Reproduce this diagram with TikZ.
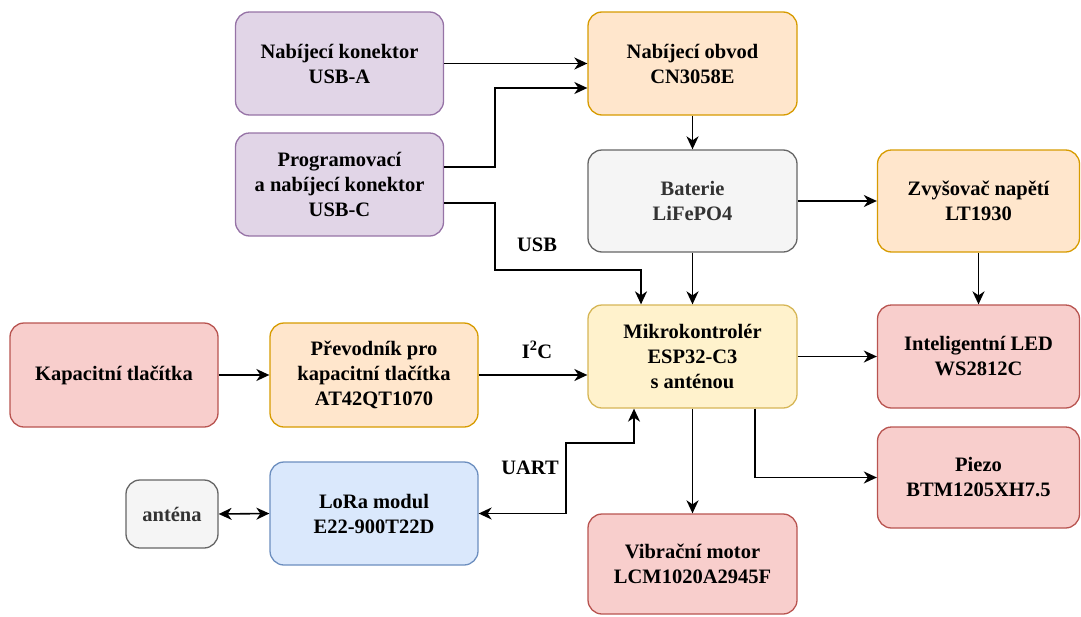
\documentclass[tikz,border=0pt]{standalone}
\usepackage{fontspec}
\setmainfont{Liberation Serif}
\newfontfamily\tnrfont{Liberation Serif}
\usetikzlibrary{arrows.meta}
\definecolor{pfill}{HTML}{E1D5E7}\definecolor{pdraw}{HTML}{9673A6}
\definecolor{ofill}{HTML}{FFE6CC}\definecolor{odraw}{HTML}{D79B00}
\definecolor{gfill}{HTML}{F5F5F5}\definecolor{gdraw}{HTML}{666666}
\definecolor{gtext}{HTML}{333333}
\definecolor{yfill}{HTML}{FFF2CC}\definecolor{ydraw}{HTML}{D6B656}
\definecolor{rfill}{HTML}{F8CECC}\definecolor{rdraw}{HTML}{B85450}
\definecolor{bfill}{HTML}{DAE8FC}\definecolor{bdraw}{HTML}{6C8EBF}
\tikzset{
  box/.style={rounded corners=14pt, line width=1.3pt, align=center, inner sep=2pt,
    font=\tnrfont\fontsize{20.5}{25}\selectfont\bfseries},
  purplebox/.style={box, fill=pfill, draw=pdraw},
  orangebox/.style={box, fill=ofill, draw=odraw},
  graybox/.style={box, fill=gfill, draw=gdraw, text=gtext},
  yellowbox/.style={box, fill=yfill, draw=ydraw},
  redbox/.style={box, fill=rfill, draw=rdraw},
  bluebox/.style={box, fill=bfill, draw=bdraw},
  tip/.tip={Stealth[length=13pt,width=12pt,inset=4pt]},
  arr/.style={line width=1.6pt, -tip},
  darr/.style={line width=1.6pt, tip-tip},
  lbl/.style={font=\tnrfont\fontsize{20.5}{25}\selectfont\bfseries}
}
\begin{document}
\begin{tikzpicture}[x=1pt,y=-1pt]
\useasboundingbox (0,0) rectangle (1081,616);
\node[purplebox, minimum width=208pt, minimum height=103pt] (usba) at (339.5,63.5) {Nabíjecí konektor\\USB-A};
\node[purplebox, minimum width=208pt, minimum height=103pt] (usbc) at (339.5,184.5) {Programovací\\a nabíjecí konektor\\USB-C};
\node[orangebox, minimum width=209pt, minimum height=103pt] (cn) at (692.5,63.5) {Nabíjecí obvod\\CN3058E};
\node[graybox, minimum width=209pt, minimum height=102pt] (bat) at (692.5,201) {Baterie\\LiFePO4};
\node[orangebox, minimum width=202pt, minimum height=102pt] (zvys) at (978.5,201) {Zvyšovač napětí\\LT1930};
\node[yellowbox, minimum width=209pt, minimum height=103pt] (esp) at (692.5,356.5) {Mikrokontrolér\\ESP32-C3\\s anténou};
\node[redbox, minimum width=202pt, minimum height=103pt] (led) at (978.5,356.5) {Inteligentní LED\\WS2812C};
\node[redbox, minimum width=202pt, minimum height=101pt] (piezo) at (978.5,477.5) {Piezo\\BTM1205XH7.5};
\node[redbox, minimum width=209pt, minimum height=100pt] (vib) at (692.5,564) {Vibrační motor\\LCM1020A2945F};
\node[redbox, minimum width=208pt, minimum height=104pt] (kap) at (114,375) {Kapacitní tlačítka};
\node[orangebox, minimum width=208pt, minimum height=104pt] (prev) at (374,375) {Převodník pro\\kapacitní tlačítka\\AT42QT1070};
\node[bluebox, minimum width=208pt, minimum height=103pt] (lora) at (374,513.5) {LoRa modul\\E22-900T22D};
\node[graybox, minimum width=92pt, minimum height=68pt] (ant) at (172,514) {anténa};

\draw[arr] (usba.east) -- (usba.east -| cn.west);
\draw[arr] (usbc.east |- 0,167) -| (495,88) -- (cn.west |- 0,88);
\draw[arr] (usbc.east |- 0,203) -| (495,270) -| (esp.north -| 641,0);
\node[lbl] (usblbl) at (537,245) {USB};
\draw[arr] (cn.south) -- (bat.north);
\draw[arr] (bat.east) -- (zvys.west);
\draw[arr] (bat.south) -- (esp.north);
\draw[arr] (zvys.south) -- (led.north);
\draw[arr] (esp.east) -- (led.west);
\draw[arr] (esp.south -| 755,0) |- (piezo.west);
\draw[arr] (esp.south) -- (vib.north);
\draw[arr] (kap.east) -- (prev.west);
\draw[arr] (prev.east) -- (esp.west |- prev.east);
\node[lbl] (i2c) at (537,350) {I\textsuperscript{2}C};
\draw[darr] (lora.east) -| (566,443) -| (esp.south -| 634,0);
\node[lbl] (uart) at (530,468) {UART};
\draw[darr] (ant.east) -- (lora.west);
\end{tikzpicture}
\end{document}
